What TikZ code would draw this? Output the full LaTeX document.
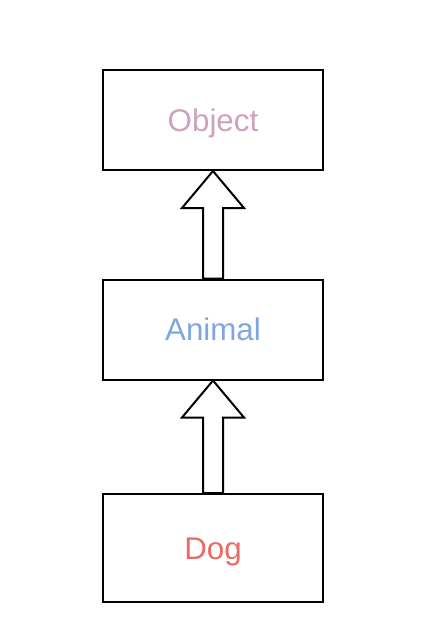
\documentclass[tikz,border=0pt]{standalone}
\usepackage{fontspec}
\setmainfont{Liberation Sans}
\usetikzlibrary{calc}
\definecolor{objcol}{HTML}{CDA2BE}
\definecolor{anicol}{HTML}{7EA6E0}
\definecolor{dogcol}{HTML}{EA6B66}
\tikzset{classbox/.style={draw,line width=1.5pt,minimum width=165pt,minimum height=75pt,inner sep=0pt,
    text height=17pt,text depth=0pt,font=\fontsize{23.5}{28}\selectfont}}
\begin{document}
\begin{tikzpicture}[x=0.75pt,y=-0.75pt,line width=1.5pt]
        \useasboundingbox(0,0)rectangle(440,636);
        \node[classbox,text=objcol](object)at(213,120){Object};
        \node[classbox,text=anicol](animal)at(213,329.5){Animal};
        \node[classbox,text=dogcol,minimum height=81pt](dog)at(213,548){Dog};
        % hollow block arrows, child up to parent
        \foreach \a/\b in {dog/animal,animal/object}
        \draw[line join=miter,fill=white]($(\a.north)+(-7.5pt,0)$)--($(\b.south)+(-7.5pt,-27.75pt)$)
            --($(\b.south)+(-23.25pt,-27.75pt)$)--(\b.south)--($(\b.south)+(23.25pt,-27.75pt)$)
            --($(\b.south)+(7.5pt,-27.75pt)$)--($(\a.north)+(7.5pt,0)$)--cycle;
    \end{tikzpicture}
\end{document}
